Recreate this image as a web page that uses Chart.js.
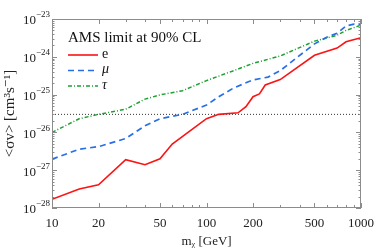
<!DOCTYPE html>
<html>
<head>
<meta charset="utf-8">
<script src="https://cdn.jsdelivr.net/npm/chart.js@4/dist/chart.umd.min.js"></script>
<style>
	html, body { margin: 0; padding: 0; background: #fff; }
	#wrap { width: 374px; height: 251px; }
</style>
</head>
<body>
<div id="wrap"><canvas id="chart" width="374" height="251"></canvas></div>
<script>
// 데이터
const eMass = [10, 15, 20, 30, 40, 50, 60, 100, 120, 160, 180, 200, 220, 240, 300, 500, 700, 800, 1000];
const eSigma = [1.7e-28, 3.2e-28, 4.1e-28, 1.9e-27, 1.4e-27, 2.0e-27, 4.9e-27, 2.3e-26, 3.0e-26, 3.3e-26, 4.8e-26, 8.8e-26, 1.04e-25, 1.8e-25, 2.5e-25, 1.1e-24, 1.7e-24, 2.5e-24, 3.2e-24];

const muMass = [10, 15, 20, 30, 40, 50, 70, 100, 120, 150, 200, 250, 300, 500, 600, 700, 800, 900, 1000];
const muSigma = [1.95e-27, 3.6e-27, 4.2e-27, 6.9e-27, 1.5e-26, 2.3e-26, 3.0e-26, 5.3e-26, 8.8e-26, 1.5e-25, 2.45e-25, 2.9e-25, 4.3e-25, 2.2e-24, 3.3e-24, 4.2e-24, 6.5e-24, 7.3e-24, 7.0e-24];

const tauMass = [10, 15, 20, 30, 40, 50, 70, 100, 150, 200, 300, 500, 700, 800, 1000];
const tauSigma = [1.0e-26, 2.3e-26, 3.0e-26, 4.1e-26, 7.6e-26, 9.8e-26, 1.27e-25, 2.35e-25, 4.3e-25, 6.7e-25, 1.05e-24, 2.6e-24, 3.7e-24, 5.0e-24, 6.9e-24];

const thermalMass = [10, 1000];
const thermalSigma = [3.0e-26, 3.0e-26];

const seriesNames = ['e', 'μ', 'τ'];
const legendTitle = 'AMS limit at 90% CL';

const xTickLabels = [10, 20, 50, 100, 200, 500, 1000];
const yTickLabels = [1e-28, 1e-27, 1e-26, 1e-25, 1e-24, 1e-23];
const yTickExp = ['−28', '−27', '−26', '−25', '−24', '−23'];

const SERIF = '"Liberation Serif", "DejaVu Serif", serif';

function toPoints(xs, ys) {
	return xs.map((x, i) => ({ x: x, y: ys[i] }));
}

// 프레임 + 안쪽 눈금 + y축 지수 라벨
const frameTicks = {
	id: 'frameTicks',
	afterDraw(chart) {
		const ctx = chart.ctx;
		const a = chart.chartArea;
		const xs = chart.scales.x, ys = chart.scales.y;
		ctx.save();
		ctx.strokeStyle = '#8c8c8c';
		ctx.lineWidth = 1;
		ctx.strokeRect(a.left + 0.5, a.top + 0.5, a.right - a.left - 1, a.bottom - a.top - 1);

		ctx.beginPath();
		// x 눈금
		for (let d = 10; d <= 1000; d *= 10) {
			for (let k = 1; k <= 9; k++) {
				const v = d * k;
				if (v > 1000) break;
				const px = Math.round(xs.getPixelForValue(v)) + 0.5;
				const len = xTickLabels.includes(v) ? 5 : 3;
				ctx.moveTo(px, a.bottom);
				ctx.lineTo(px, a.bottom - len);
				ctx.moveTo(px, a.top);
				ctx.lineTo(px, a.top + len);
			}
		}
		// y 눈금
		for (let e = -28; e <= -23; e++) {
			for (let k = 1; k <= 9; k++) {
				if (e === -23 && k > 1) break;
				const v = k * Math.pow(10, e);
				const py = Math.round(ys.getPixelForValue(v)) + 0.5;
				const len = k === 1 ? 5 : 2.5;
				ctx.moveTo(a.left, py);
				ctx.lineTo(a.left + len, py);
				ctx.moveTo(a.right, py);
				ctx.lineTo(a.right - len, py);
			}
		}
		ctx.stroke();

		// y 라벨: 10 + 위첨자
		ctx.fillStyle = '#222';
		ctx.textBaseline = 'middle';
		yTickLabels.forEach((v, i) => {
			const py = ys.getPixelForValue(v);
			ctx.font = '13px ' + SERIF;
			ctx.textAlign = 'right';
			ctx.fillText('10', a.left - 16, py + 2);
			ctx.font = '9px ' + SERIF;
			ctx.textAlign = 'left';
			ctx.fillText(yTickExp[i], a.left - 16, py - 4);
		});
		ctx.restore();
	}
};

// 범례 (그림 안쪽 왼쪽 위)
const innerLegend = {
	id: 'innerLegend',
	afterDatasetsDraw(chart) {
		const ctx = chart.ctx;
		const a = chart.chartArea;
		ctx.save();
		ctx.fillStyle = '#111';
		ctx.textBaseline = 'middle';
		ctx.font = '15px ' + SERIF;
		ctx.fillText(legendTitle, a.left + 16, 38);
		for (let i = 0; i < 3; i++) {
			const ds = chart.data.datasets[i];
			const y = 55 + i * 15.5;
			ctx.strokeStyle = ds.borderColor;
			ctx.lineWidth = ds.borderWidth;
			ctx.setLineDash(ds.borderDash || []);
			ctx.beginPath();
			ctx.moveTo(a.left + 16, y);
			ctx.lineTo(a.left + 46, y);
			ctx.stroke();
			ctx.setLineDash([]);
			ctx.font = (i === 0 ? '' : 'italic ') + '14px ' + SERIF;
			ctx.fillText(ds.label, a.left + 50, y - 1);
		}
		ctx.restore();
	}
};

new Chart(document.getElementById('chart'), {
	type: 'line',
	data: {
		datasets: [{
			label: seriesNames[0],
			data: toPoints(eMass, eSigma),
			borderColor: 'rgb(250, 20, 20)',
			borderWidth: 1.6
		}, {
			label: seriesNames[1],
			data: toPoints(muMass, muSigma),
			borderColor: 'rgb(40, 110, 230)',
			borderWidth: 1.7,
			borderDash: [6, 4]
		}, {
			label: seriesNames[2],
			data: toPoints(tauMass, tauSigma),
			borderColor: 'rgb(30, 160, 50)',
			borderWidth: 1.5,
			borderDash: [4, 2, 1, 2]
		}, {
			label: 'thermal',
			data: toPoints(thermalMass, thermalSigma),
			borderColor: '#333',
			borderWidth: 1,
			borderDash: [1, 2]
		}]
	},
	options: {
		responsive: false,
		animation: false,
		layout: { padding: { top: 19, right: 13, left: 0, bottom: 0 } },
		elements: { point: { radius: 0 }, line: { tension: 0 } },
		plugins: {
			legend: { display: false },
			tooltip: { enabled: false }
		},
		scales: {
			x: {
				type: 'logarithmic',
				min: 10,
				max: 1000,
				grid: { display: false },
				border: { display: false },
				afterBuildTicks: (s) => { s.ticks = xTickLabels.map(v => ({ value: v })); },
				afterFit: (s) => { s.height = 43; s.paddingLeft = 0; s.paddingRight = 0; },
				ticks: {
					autoSkip: false,
					maxRotation: 0,
					color: '#222',
					padding: 0,
					font: { family: SERIF, size: 13 },
					callback: (v) => String(v)
				},
				title: {
					display: true,
					text: 'mᵪ [GeV]',
					color: '#222',
					padding: { top: 4, bottom: 2 },
					font: { family: SERIF, size: 13 }
				}
			},
			y: {
				type: 'logarithmic',
				min: 1e-28,
				max: 1e-23,
				grid: { display: false },
				border: { display: false },
				afterBuildTicks: (s) => { s.ticks = yTickLabels.map(v => ({ value: v })); },
				afterFit: (s) => { s.width = 52; s.paddingTop = 0; s.paddingBottom = 0; },
				ticks: { display: false },
				title: {
					display: true,
					text: '<σv> [cm³s⁻¹]',
					color: '#222',
					padding: { top: 3, bottom: 0 },
					font: { family: SERIF, size: 15, lineHeight: 1 }
				}
			}
		}
	},
	plugins: [frameTicks, innerLegend]
});
</script>
</body>
</html>
